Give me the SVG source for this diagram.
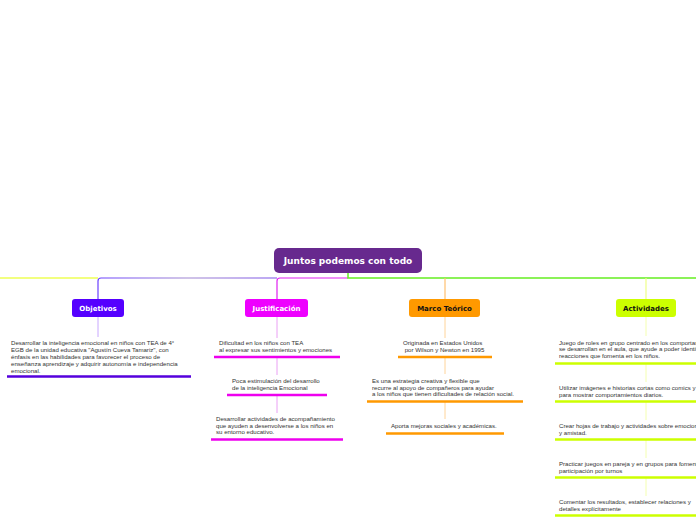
<svg xmlns="http://www.w3.org/2000/svg" width="696" height="520" viewBox="0 0 696 520">
<defs>
<linearGradient id="gObj" x1="98" y1="0" x2="277" y2="0" gradientUnits="userSpaceOnUse">
<stop offset="0" stop-color="#6a40ff"/><stop offset="0.5" stop-color="#a088d0"/><stop offset="1" stop-color="#7a50e8"/>
</linearGradient>
</defs>
<style>
.main{font-family:"DejaVu Sans",sans-serif;font-weight:bold;font-size:9px;fill:#fff;text-anchor:middle}
.lbl{font-family:"DejaVu Sans",sans-serif;font-weight:bold;font-size:7px;text-anchor:middle}
.t{font-family:"Liberation Sans",Arial,sans-serif;font-size:6.1px;fill:#333}
.c{fill:none;stroke-linecap:butt}
.ul{stroke-width:2.5;fill:none}
</style>
<rect width="696" height="520" fill="#fff"/>
<g id="connectors">
<path class="c" d="M0 278H98" stroke="#eeff55" stroke-width="1.5"/>
<path class="c" d="M277 278H101Q98 278 98 281V299" stroke="url(#gObj)" stroke-width="1.2"/>
<path class="c" d="M348 278H280Q277 278 277 281V299" stroke="#e020f0" stroke-width="1.2"/>
<path class="c" d="M348 273V278H696" stroke="#66ee22" stroke-width="1.5"/>
<path class="c" d="M445 278V299" stroke="#ffc070" stroke-width="1.2"/>
<path class="c" d="M646 278V299" stroke="#eeff88" stroke-width="1.2"/>
<g stroke="#c8a8ff" stroke-width="1"><path class="c" d="M98 317V337"/></g>
<g stroke="#eaa0f4" stroke-width="1"><path class="c" d="M277 317V338M277 358V375M277 396V413"/></g>
<g stroke="#ffd49a" stroke-width="1"><path class="c" d="M445 317V338M445 358V374M445 402V419"/></g>
<g stroke="#f4ffb0" stroke-width="1"><path class="c" d="M646 317V336M646 364V382M646 402V420M646 440V458M646 478V496"/></g>
</g>
<g id="center">
<rect x="274" y="248" width="148" height="25" rx="5" fill="#67298e"/>
<text class="main" x="348" y="264">Juntos podemos con todo</text>
</g>
<g id="objetivos">
<rect x="72" y="299" width="52" height="18" rx="3" fill="#5500ff"/>
<text class="lbl" x="98" y="310.5" fill="#fff">Objetivos</text>
</g>
<g id="justificacion">
<rect x="245" y="299" width="63" height="18" rx="3" fill="#ee00ff"/>
<text class="lbl" x="276.5" y="310.5" fill="#fff">Justificación</text>
</g>
<g id="marco">
<rect x="409" y="299" width="71" height="18" rx="3" fill="#ff9900"/>
<text class="lbl" x="444.5" y="310.5" fill="#111">Marco Teórico</text>
</g>
<g id="actividades">
<rect x="616" y="299" width="60" height="18" rx="3" fill="#ccff00"/>
<text class="lbl" x="646" y="310.5" fill="#111">Actividades</text>
</g>
<g id="obj-1">
<text class="t" x="11" y="344.5"><tspan x="11">Desarrollar la inteligencia emocional en niños con TEA de 4°</tspan><tspan x="11" dy="7.1">EGB de la unidad educativa "Agustín Cueva Tamariz", con</tspan><tspan x="11" dy="7.1">énfasis en las habilidades para favorecer el proceso de</tspan><tspan x="11" dy="7.1">enseñanza aprendizaje y adquirir autonomía e independencia</tspan><tspan x="11" dy="7.1">emocional.</tspan></text>
<path class="ul" d="M7 376.5H191" stroke="#5500dd"/>
</g>
<g id="jus-1">
<text class="t" x="219" y="345"><tspan x="219">Dificultad en los niños con TEA</tspan><tspan x="219" dy="7">al expresar sus sentimientos y emociones</tspan></text>
<path class="ul" d="M214 357H340" stroke="#ee00ee"/>
</g>
<g id="jus-2">
<text class="t" x="232" y="383"><tspan x="232">Poca estimulación del desarrollo</tspan><tspan x="232" dy="7">de la inteligencia Emocional</tspan></text>
<path class="ul" d="M227 395H327" stroke="#ee00ee"/>
</g>
<g id="jus-3">
<text class="t" x="216" y="421"><tspan x="216">Desarrollar actividades de acompañamiento</tspan><tspan x="216" dy="6.7">que ayuden a desenvolverse a los niños en</tspan><tspan x="216" dy="6.7">su entorno educativo.</tspan></text>
<path class="ul" d="M211 439.5H343" stroke="#ee00ee"/>
</g>
<g id="mar-1">
<text class="t" x="403" y="345"><tspan x="403">Originada en Estados Unidos</tspan><tspan x="403" dy="7"> por Wilson y Newton en 1995</tspan></text>
<path class="ul" d="M398 357H492" stroke="#ff9900"/>
</g>
<g id="mar-2">
<text class="t" x="372" y="383"><tspan x="372">Es una estrategia creativa y flexible que</tspan><tspan x="372" dy="6.6">recurre al apoyo de compañeros para ayudar</tspan><tspan x="372" dy="6.6">a los niños que tienen dificultades de relación social.</tspan></text>
<path class="ul" d="M367 401.5H523" stroke="#ff9900"/>
</g>
<g id="mar-3">
<text class="t" x="391" y="428">Aporta mejoras sociales y académicas.</text>
<path class="ul" d="M386 433.5H504" stroke="#ff9900"/>
</g>
<g id="act-1">
<text class="t" x="559" y="344.5"><tspan x="559">Juego de roles en grupo centrado en los comportamientos</tspan><tspan x="559" dy="6.6">se desarrollan en el aula, que ayude a poder identificar</tspan><tspan x="559" dy="6.6">reacciones que fomenta en los niños.</tspan></text>
<path class="ul" d="M555 363.5H700" stroke="#ccff00"/>
</g>
<g id="act-2">
<text class="t" x="559" y="390"><tspan x="559">Utilizar imágenes e historias cortas como comics y</tspan><tspan x="559" dy="6.6">para mostrar comportamientos diarios.</tspan></text>
<path class="ul" d="M555 401.5H700" stroke="#ccff00"/>
</g>
<g id="act-3">
<text class="t" x="559" y="428"><tspan x="559">Crear hojas de trabajo y actividades sobre emociones</tspan><tspan x="559" dy="6.6">y amistad.</tspan></text>
<path class="ul" d="M555 439.5H700" stroke="#ccff00"/>
</g>
<g id="act-4">
<text class="t" x="559" y="466"><tspan x="559">Practicar juegos en pareja y en grupos para fomentar</tspan><tspan x="559" dy="6.6">participación por turnos</tspan></text>
<path class="ul" d="M555 477.5H700" stroke="#ccff00"/>
</g>
<g id="act-5">
<text class="t" x="559" y="504"><tspan x="559">Comentar los resultados, establecer relaciones y</tspan><tspan x="559" dy="6.6">detalles explícitamente</tspan></text>
<path class="ul" d="M555 515.5H700" stroke="#ccff00"/>
</g>
</svg>
